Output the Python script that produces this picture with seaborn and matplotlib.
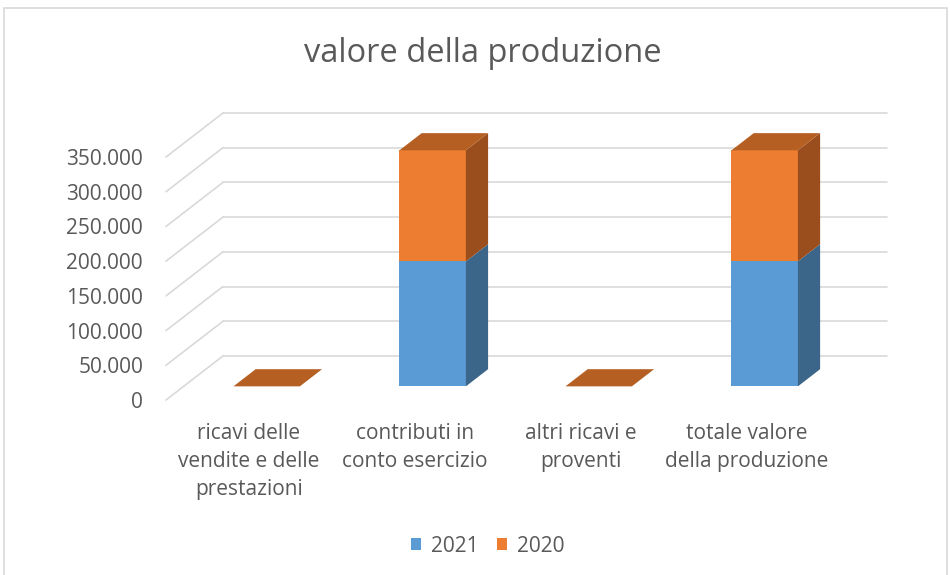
import numpy as np
import pandas as pd
import seaborn as sns
import matplotlib.pyplot as plt
import matplotlib.transforms as mtransforms
from matplotlib.patches import Patch, Rectangle

categories = [
    "ricavi delle\nvendite e delle\nprestazioni",
    "contributi in\nconto esercizio",
    "altri ricavi e\nproventi",
    "totale valore\ndella produzione",
]
years = ["2021", "2020"]
values_2021 = [0, 180000, 0, 180000]
values_2020 = [0, 160000, 0, 160000]
y_ticks = [0, 50000, 100000, 150000, 200000, 250000, 300000, 350000]

BLUE, BLUE_SIDE = "#5b9bd5", "#3b6689"
ORANGE, ORANGE_SIDE, ORANGE_TOP = "#ed7d31", "#9b4e1d", "#b55f22"
GRID = "#d9d9d9"
TEXT = "#595959"

# oblique 3d look: floor depth in data units, bars sit in the middle of it
DEPTH_X, DEPTH_Y = 0.343, 63400
BAR_FRONT, BAR_BACK = 0.31, 0.70
BAR_W = 0.4

sns.set_theme(style="white")
plt.rcParams["font.family"] = ["Open Sans", "DejaVu Sans"]

fig = plt.figure(figsize=(9.5, 5.75), dpi=100)
ax = fig.add_axes([166 / 950, 175 / 575, 721 / 950, 287 / 575])

df = pd.DataFrame({"categoria": categories,
                   "2021": values_2021,
                   "2020": values_2020})
df["totale"] = df["2021"] + df["2020"]

# back wall + left wall grid
x0, x1 = -0.5, len(categories) - 0.5
for v in y_ticks:
    ax.plot([x0 + DEPTH_X, x1 + DEPTH_X], [v + DEPTH_Y, v + DEPTH_Y],
            color=GRID, lw=1.2, clip_on=False, zorder=0)
    ax.plot([x0, x0 + DEPTH_X], [v, v + DEPTH_Y],
            color=GRID, lw=1.2, clip_on=False, zorder=0)

# front faces (stacked: total first, 2021 drawn over it)
sns.barplot(data=df, x="categoria", y="totale", color=ORANGE, width=BAR_W,
            saturation=1, ax=ax, zorder=2)
sns.barplot(data=df, x="categoria", y="2021", color=BLUE, width=BAR_W,
            saturation=1, ax=ax, zorder=2)

fx, fy = BAR_FRONT * DEPTH_X, BAR_FRONT * DEPTH_Y
bx, by = (BAR_BACK - BAR_FRONT) * DEPTH_X, (BAR_BACK - BAR_FRONT) * DEPTH_Y
shift = mtransforms.Affine2D().translate(fx, fy) + ax.transData
for p in ax.patches:
    p.set_transform(shift)
    p.set_linewidth(0)

# side and top faces
for i, row in df.iterrows():
    xl = i - BAR_W / 2 + fx
    xr = i + BAR_W / 2 + fx
    segs = [(0, row["2021"], BLUE_SIDE),
            (row["2021"], row["totale"], ORANGE_SIDE)]
    for b, t, c in segs:
        if t > b:
            ax.fill([xr, xr + bx, xr + bx, xr],
                    [b + fy, b + fy + by, t + fy + by, t + fy],
                    color=c, lw=0, zorder=2)
    top = row["totale"] + fy
    ax.fill([xl, xr, xr + bx, xl + bx], [top, top, top + by, top + by],
            color=ORANGE_TOP, lw=0, zorder=2)

ax.set_xlim(x0, x1 + DEPTH_X)
ax.set_ylim(0, y_ticks[-1] + DEPTH_Y)
ax.set_yticks(y_ticks)
ax.set_yticklabels([f"{v:,.0f}".replace(",", ".") for v in y_ticks])
ax.set_xticks(range(len(categories)))
ax.set_xticklabels(categories, linespacing=1.45)
ax.tick_params(axis="y", length=0, pad=16.5, labelsize=15, labelcolor=TEXT)
ax.tick_params(axis="x", length=0, pad=16.5, labelsize=15, labelcolor=TEXT)
ax.set_xlabel("")
ax.set_ylabel("")
ax.grid(False)
for s in ax.spines.values():
    s.set_visible(False)

fig.text(483 / 950, 1 - 53 / 575, "valore della produzione", ha="center",
         va="center", fontsize=23.5, color=TEXT)

handles = [Patch(color=BLUE, lw=0), Patch(color=ORANGE, lw=0)]
fig.legend(handles, years, loc="center", bbox_to_anchor=(488 / 950, 1 - 546 / 575),
           ncol=2, frameon=False, fontsize=15, labelcolor=TEXT,
           handlelength=0.45, handleheight=0.45, handletextpad=0.5,
           columnspacing=0.9)

fig.patches.append(Rectangle((4 / 950, -0.02), 943 / 950, 1.02 - 8 / 575,
                             transform=fig.transFigure, fill=False,
                             edgecolor=GRID, lw=1.2))

fig.savefig("out.png", dpi=100)
